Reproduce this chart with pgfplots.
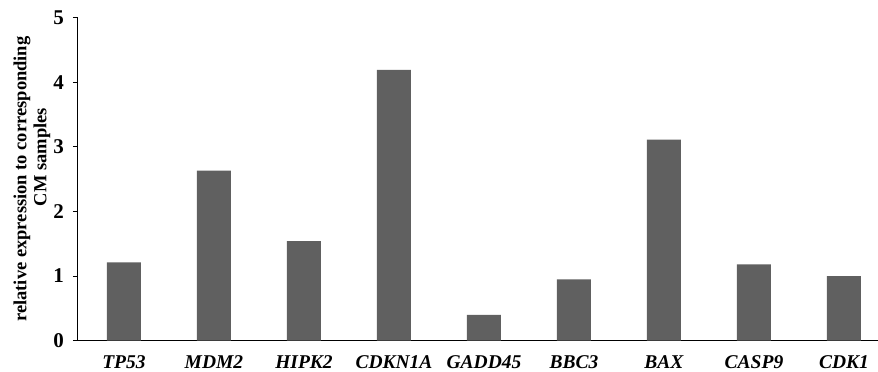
\documentclass[border=0pt]{standalone}
\usepackage{pgfplots}
\pgfplotsset{compat=1.18}
\usepackage{fontspec}
\setmainfont{Liberation Serif}
\definecolor{barc}{RGB}{96,96,96}
\begin{document}
\begin{tikzpicture}
\useasboundingbox (-78pt,-31.3pt) rectangle (800pt,340.7pt);
\begin{axis}[
  at={(0,0)}, anchor=south west,
  scale only axis, width=800pt, height=323.2pt,
  xmin=-0.511, xmax=8.378, ymin=0, ymax=5,
  axis lines*=left,
  axis line style={line width=1pt},
  ytick={0,1,2,3,4,5},
  xtick={0,1,2,3,4,5,6,7,8},
  xticklabels={TP53,MDM2,HIPK2,CDKN1A,GADD45,BBC3,BAX,CASP9,CDK1},
  tick align=outside,
  major tick length=5pt,
  x tick style={draw=none},
  y tick style={line width=1pt, black},
  yticklabel style={font=\fontsize{21}{21}\selectfont\bfseries, inner sep=0pt, anchor=east, xshift=-9pt},
  xticklabel style={font=\fontsize{19.5}{19.5}\selectfont\bfseries\itshape, inner sep=0pt, anchor=north, yshift=-10pt},
  /pgf/number format/assume math mode=true,
  ylabel={relative expression to corresponding\\\hspace*{44pt}CM samples},
  every axis y label/.style={at={(axis description cs:0,0.5)}, xshift=-46pt, rotate=90, anchor=center, align=center, font=\fontsize{18.5}{20}\selectfont\bfseries},
  ybar, bar width=34pt,
]
\addplot[fill=barc, draw=none] coordinates {
  (0,1.21) (1,2.63) (2,1.54) (3,4.19) (4,0.40) (5,0.95) (6,3.11) (7,1.18) (8,1.00)
};
\end{axis}
\end{tikzpicture}
\end{document}
